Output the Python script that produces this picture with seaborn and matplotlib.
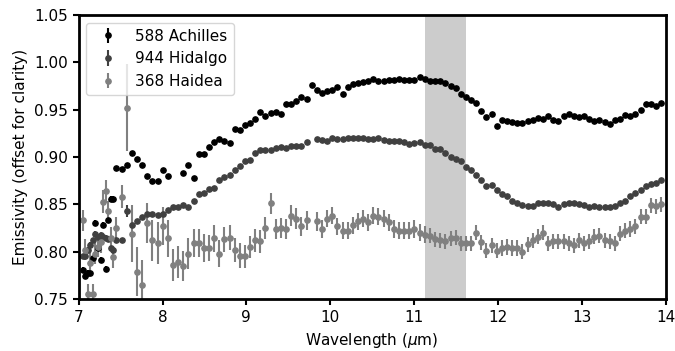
import numpy as np
import pandas as pd
import matplotlib
matplotlib.use("Agg")
import matplotlib.pyplot as plt
import seaborn as sns

nan = np.nan

# wavelength grid (um): dense start, then regular sampling
wavelength = [
    7.05, 7.08, 7.11, 7.14, 7.17, 7.20, 7.23, 7.26, 7.29, 7.32, 7.35, 7.38, 7.41,
    7.450, 7.511, 7.573, 7.634, 7.695, 7.757, 7.818, 7.879, 7.940, 8.002,
    8.063, 8.124, 8.186, 8.247, 8.308, 8.370, 8.431, 8.492, 8.553, 8.615,
    8.676, 8.737, 8.799, 8.860, 8.921, 8.983, 9.044, 9.105, 9.166, 9.228,
    9.289, 9.350, 9.412, 9.473, 9.534, 9.596, 9.657, 9.718, 9.779, 9.841,
    9.902, 9.963, 10.025, 10.086, 10.147, 10.209, 10.270, 10.331, 10.392, 10.454,
    10.515, 10.576, 10.638, 10.699, 10.760, 10.822, 10.883, 10.944, 11.005, 11.067,
    11.128, 11.189, 11.251, 11.312, 11.373, 11.435, 11.496, 11.557, 11.618, 11.680,
    11.741, 11.802, 11.864, 11.925, 11.986, 12.048, 12.109, 12.170, 12.231, 12.293,
    12.354, 12.415, 12.477, 12.538, 12.599, 12.661, 12.722, 12.783, 12.845, 12.906,
    12.967, 13.028, 13.090, 13.151, 13.212, 13.274, 13.335, 13.396, 13.458, 13.519,
    13.580, 13.641, 13.703, 13.764, 13.825, 13.887, 13.948,
]

achilles = [
    0.781, 0.774, 0.778, 0.777, 0.793, 0.830, 0.804, 0.791, 0.828, 0.782, 0.833, 0.856, 0.856,
    0.888, 0.887, 0.892, 0.904, 0.898, 0.892, 0.880, 0.875, 0.875, 0.886,
    0.880, nan, nan, 0.883, 0.892, 0.878, 0.903, 0.903, 0.911, 0.916,
    0.919, 0.917, 0.915, 0.930, 0.929, 0.934, 0.936, 0.940, 0.948, 0.943,
    0.947, 0.948, 0.945, 0.956, 0.956, 0.959, 0.963, 0.961, 0.976, 0.971,
    0.968, 0.970, 0.971, 0.974, 0.967, 0.974, 0.977, 0.978, 0.979, 0.980,
    0.983, 0.980, 0.980, 0.981, 0.981, 0.982, 0.981, 0.981, 0.981, 0.985,
    0.982, 0.980, 0.980, 0.980, 0.978, 0.975, 0.973, 0.967, 0.963, 0.960,
    0.957, 0.949, 0.942, 0.945, 0.933, 0.939, 0.938, 0.937, 0.936, 0.936,
    0.938, 0.939, 0.941, 0.940, 0.943, 0.939, 0.938, 0.943, 0.945, 0.943,
    0.942, 0.943, 0.940, 0.938, 0.939, 0.937, 0.935, 0.939, 0.940, 0.944,
    0.943, 0.946, 0.950, 0.956, 0.956, 0.954, 0.957,
]

hidalgo = [
    0.795, 0.795, 0.802, 0.807, 0.812, 0.819, 0.816, 0.818, 0.816, 0.815, 0.813, 0.804, 0.802,
    0.812, 0.812, 0.843, 0.828, 0.832, 0.837, 0.840, 0.840, 0.839, 0.840,
    0.844, 0.847, 0.847, 0.849, 0.847, 0.854, 0.861, 0.862, 0.866, 0.867,
    0.876, 0.879, 0.881, 0.886, 0.891, 0.896, 0.897, 0.904, 0.907, 0.907,
    0.907, 0.910, 0.911, 0.910, 0.912, 0.912, 0.912, 0.916, nan, 0.919,
    0.918, 0.917, 0.920, 0.919, 0.919, 0.920, 0.920, 0.920, 0.920, 0.919,
    0.919, 0.920, 0.918, 0.917, 0.917, 0.917, 0.916, 0.914, 0.915, 0.916,
    0.913, 0.913, 0.909, 0.909, 0.904, 0.900, 0.898, 0.896, 0.889, 0.886,
    0.881, 0.876, 0.869, 0.870, 0.865, 0.861, 0.859, 0.854, 0.851, 0.849,
    0.848, 0.848, 0.851, 0.852, 0.852, 0.850, 0.847, 0.850, 0.852, 0.851,
    0.850, 0.849, 0.847, 0.848, 0.847, 0.847, 0.847, 0.848, 0.851, 0.854,
    0.859, 0.862, 0.865, 0.869, 0.872, 0.873, 0.876,
]

haidea = [
    0.833, 0.802, 0.755, 0.788, 0.755, 0.798, 0.805, 0.810, 0.853, 0.864, 0.843, 0.815, 0.794,
    0.825, 0.858, 0.952, 0.819, 0.779, 0.765, 0.830, 0.812, 0.809, 0.827,
    0.814, 0.786, 0.789, 0.785, 0.798, 0.809, 0.809, 0.804, 0.804, 0.814,
    0.798, 0.813, 0.815, 0.802, 0.796, 0.795, 0.805, 0.812, 0.811, 0.825,
    0.851, 0.824, 0.825, 0.824, 0.838, 0.835, 0.827, 0.833, nan, 0.832,
    0.824, 0.835, 0.838, 0.827, 0.822, 0.822, 0.828, 0.832, 0.835, 0.831,
    0.838, 0.837, 0.835, 0.831, 0.824, 0.822, 0.822, 0.822, 0.824, 0.820,
    0.818, 0.817, 0.813, 0.812, 0.811, 0.814, 0.815, 0.809, 0.809, 0.809,
    0.820, 0.810, 0.801, 0.807, 0.801, 0.804, 0.805, 0.804, 0.804, 0.800,
    0.808, 0.812, 0.816, 0.820, 0.809, 0.811, 0.811, 0.811, 0.809, 0.807,
    0.812, 0.809, 0.811, 0.816, 0.817, 0.812, 0.811, 0.809, 0.819, 0.822,
    0.824, 0.827, 0.837, 0.837, 0.849, 0.848, 0.850,
]

achilles_err = [
    0.003, 0.003, 0.003, 0.003, 0.003, 0.003, 0.003, 0.003, 0.003, 0.003, 0.003, 0.003, 0.003,
    0.002, 0.002, 0.002, 0.002, 0.002, 0.002, 0.002, 0.002, 0.002, 0.002,
    0.002, 0.002, 0.002, 0.002, 0.002, 0.002, 0.002, 0.002, 0.002, 0.002,
    0.002, 0.002, 0.002, 0.002, 0.002, 0.002, 0.002, 0.002, 0.002, 0.002,
    0.002, 0.002, 0.002, 0.002, 0.002, 0.002, 0.002, 0.002, 0.002, 0.002,
    0.002, 0.002, 0.002, 0.002, 0.002, 0.002, 0.002, 0.002, 0.002, 0.002,
    0.002, 0.002, 0.002, 0.002, 0.002, 0.002, 0.002, 0.002, 0.002, 0.002,
    0.002, 0.002, 0.002, 0.002, 0.002, 0.002, 0.002, 0.002, 0.002, 0.002,
    0.002, 0.002, 0.002, 0.002, 0.002, 0.002, 0.002, 0.002, 0.002, 0.002,
    0.002, 0.002, 0.002, 0.002, 0.002, 0.002, 0.002, 0.002, 0.002, 0.002,
    0.002, 0.002, 0.002, 0.002, 0.002, 0.002, 0.002, 0.002, 0.002, 0.002,
    0.002, 0.002, 0.002, 0.002, 0.002, 0.002, 0.002,
]

hidalgo_err = [
    0.003, 0.003, 0.003, 0.003, 0.003, 0.003, 0.003, 0.003, 0.003, 0.003, 0.003, 0.003, 0.003,
    0.003, 0.003, 0.006, 0.003, 0.002, 0.002, 0.002, 0.002, 0.002, 0.002,
    0.002, 0.002, 0.002, 0.002, 0.002, 0.002, 0.002, 0.002, 0.002, 0.002,
    0.002, 0.002, 0.002, 0.002, 0.002, 0.002, 0.002, 0.002, 0.002, 0.002,
    0.002, 0.002, 0.002, 0.002, 0.002, 0.002, 0.002, 0.002, 0.002, 0.002,
    0.002, 0.002, 0.002, 0.002, 0.002, 0.002, 0.002, 0.002, 0.002, 0.002,
    0.002, 0.002, 0.002, 0.002, 0.002, 0.002, 0.002, 0.002, 0.002, 0.002,
    0.002, 0.002, 0.002, 0.002, 0.002, 0.002, 0.002, 0.002, 0.002, 0.002,
    0.002, 0.002, 0.002, 0.002, 0.002, 0.002, 0.002, 0.002, 0.002, 0.002,
    0.002, 0.002, 0.002, 0.002, 0.002, 0.002, 0.002, 0.002, 0.002, 0.002,
    0.002, 0.002, 0.002, 0.002, 0.002, 0.002, 0.002, 0.002, 0.002, 0.002,
    0.002, 0.002, 0.002, 0.002, 0.002, 0.002, 0.002,
]

haidea_err = [
    0.011, 0.011, 0.011, 0.011, 0.011, 0.011, 0.011, 0.011, 0.012, 0.012, 0.011, 0.011, 0.011,
    0.012, 0.012, 0.046, 0.030, 0.026, 0.026, 0.021, 0.022, 0.022, 0.020,
    0.020, 0.017, 0.017, 0.016, 0.016, 0.015, 0.015, 0.015, 0.014, 0.014,
    0.014, 0.013, 0.013, 0.013, 0.013, 0.012, 0.012, 0.012, 0.012, 0.012,
    0.011, 0.011, 0.011, 0.011, 0.011, 0.011, 0.010, 0.010, 0.010, 0.010,
    0.009, 0.009, 0.009, 0.009, 0.009, 0.009, 0.009, 0.009, 0.009, 0.009,
    0.009, 0.009, 0.009, 0.009, 0.009, 0.009, 0.009, 0.009, 0.009, 0.009,
    0.009, 0.008, 0.008, 0.008, 0.008, 0.008, 0.008, 0.008, 0.008, 0.008,
    0.008, 0.008, 0.008, 0.008, 0.008, 0.008, 0.008, 0.008, 0.008, 0.008,
    0.008, 0.008, 0.008, 0.008, 0.008, 0.008, 0.008, 0.008, 0.008, 0.008,
    0.008, 0.008, 0.008, 0.008, 0.008, 0.008, 0.008, 0.008, 0.008, 0.008,
    0.008, 0.008, 0.008, 0.008, 0.008, 0.008, 0.008,
]

names = ["588 Achilles", "944 Hidalgo", "368 Haidea"]
colors = ["#000000", "#404040", "#808080"]
band = (11.13, 11.62)   # shaded wavelength range

df = pd.DataFrame({
    "wavelength": wavelength * 3,
    "emissivity": achilles + hidalgo + haidea,
    "err": achilles_err + hidalgo_err + haidea_err,
    "asteroid": [n for n in names for _ in wavelength],
})

sns.set_style("ticks", {"text.color": "black", "axes.labelcolor": "black",
                        "xtick.color": "black", "ytick.color": "black",
                        "axes.edgecolor": "black"})
plt.rcParams["font.family"] = ["DejaVu Sans"]
plt.rcParams["font.size"] = 11

fig, ax = plt.subplots(figsize=(6.75, 3.51), dpi=100)
fig.subplots_adjust(left=0.1166, right=0.986, bottom=0.148, top=0.957)

ax.axvspan(band[0], band[1], color="#cccccc", lw=0, zorder=0)

for name, col in zip(names, colors):
    sub = df[df["asteroid"] == name]
    ax.errorbar(sub["wavelength"], sub["emissivity"], yerr=sub["err"],
                fmt="o", color=col, ms=3.8, elinewidth=1.5, capsize=0,
                label=name, zorder=2)

ax.set_xlim(7, 14)
ax.set_ylim(0.75, 1.05)
ax.set_yticks([0.75, 0.80, 0.85, 0.90, 0.95, 1.00, 1.05])
ax.set_xlabel(r"Wavelength ($\mu$m)", fontsize=11)
ax.set_ylabel("Emissivity (offset for clarity)", fontsize=11)
ax.tick_params(direction="out", length=4.5, width=1.5, labelsize=11,
               colors="black")
for s in ax.spines.values():
    s.set_linewidth(2.0)
    s.set_color("black")

leg = ax.legend(loc="upper left", fontsize=11, frameon=True)
for t in leg.get_texts():
    t.set_color("black")

fig.savefig("out.png", dpi=100)
